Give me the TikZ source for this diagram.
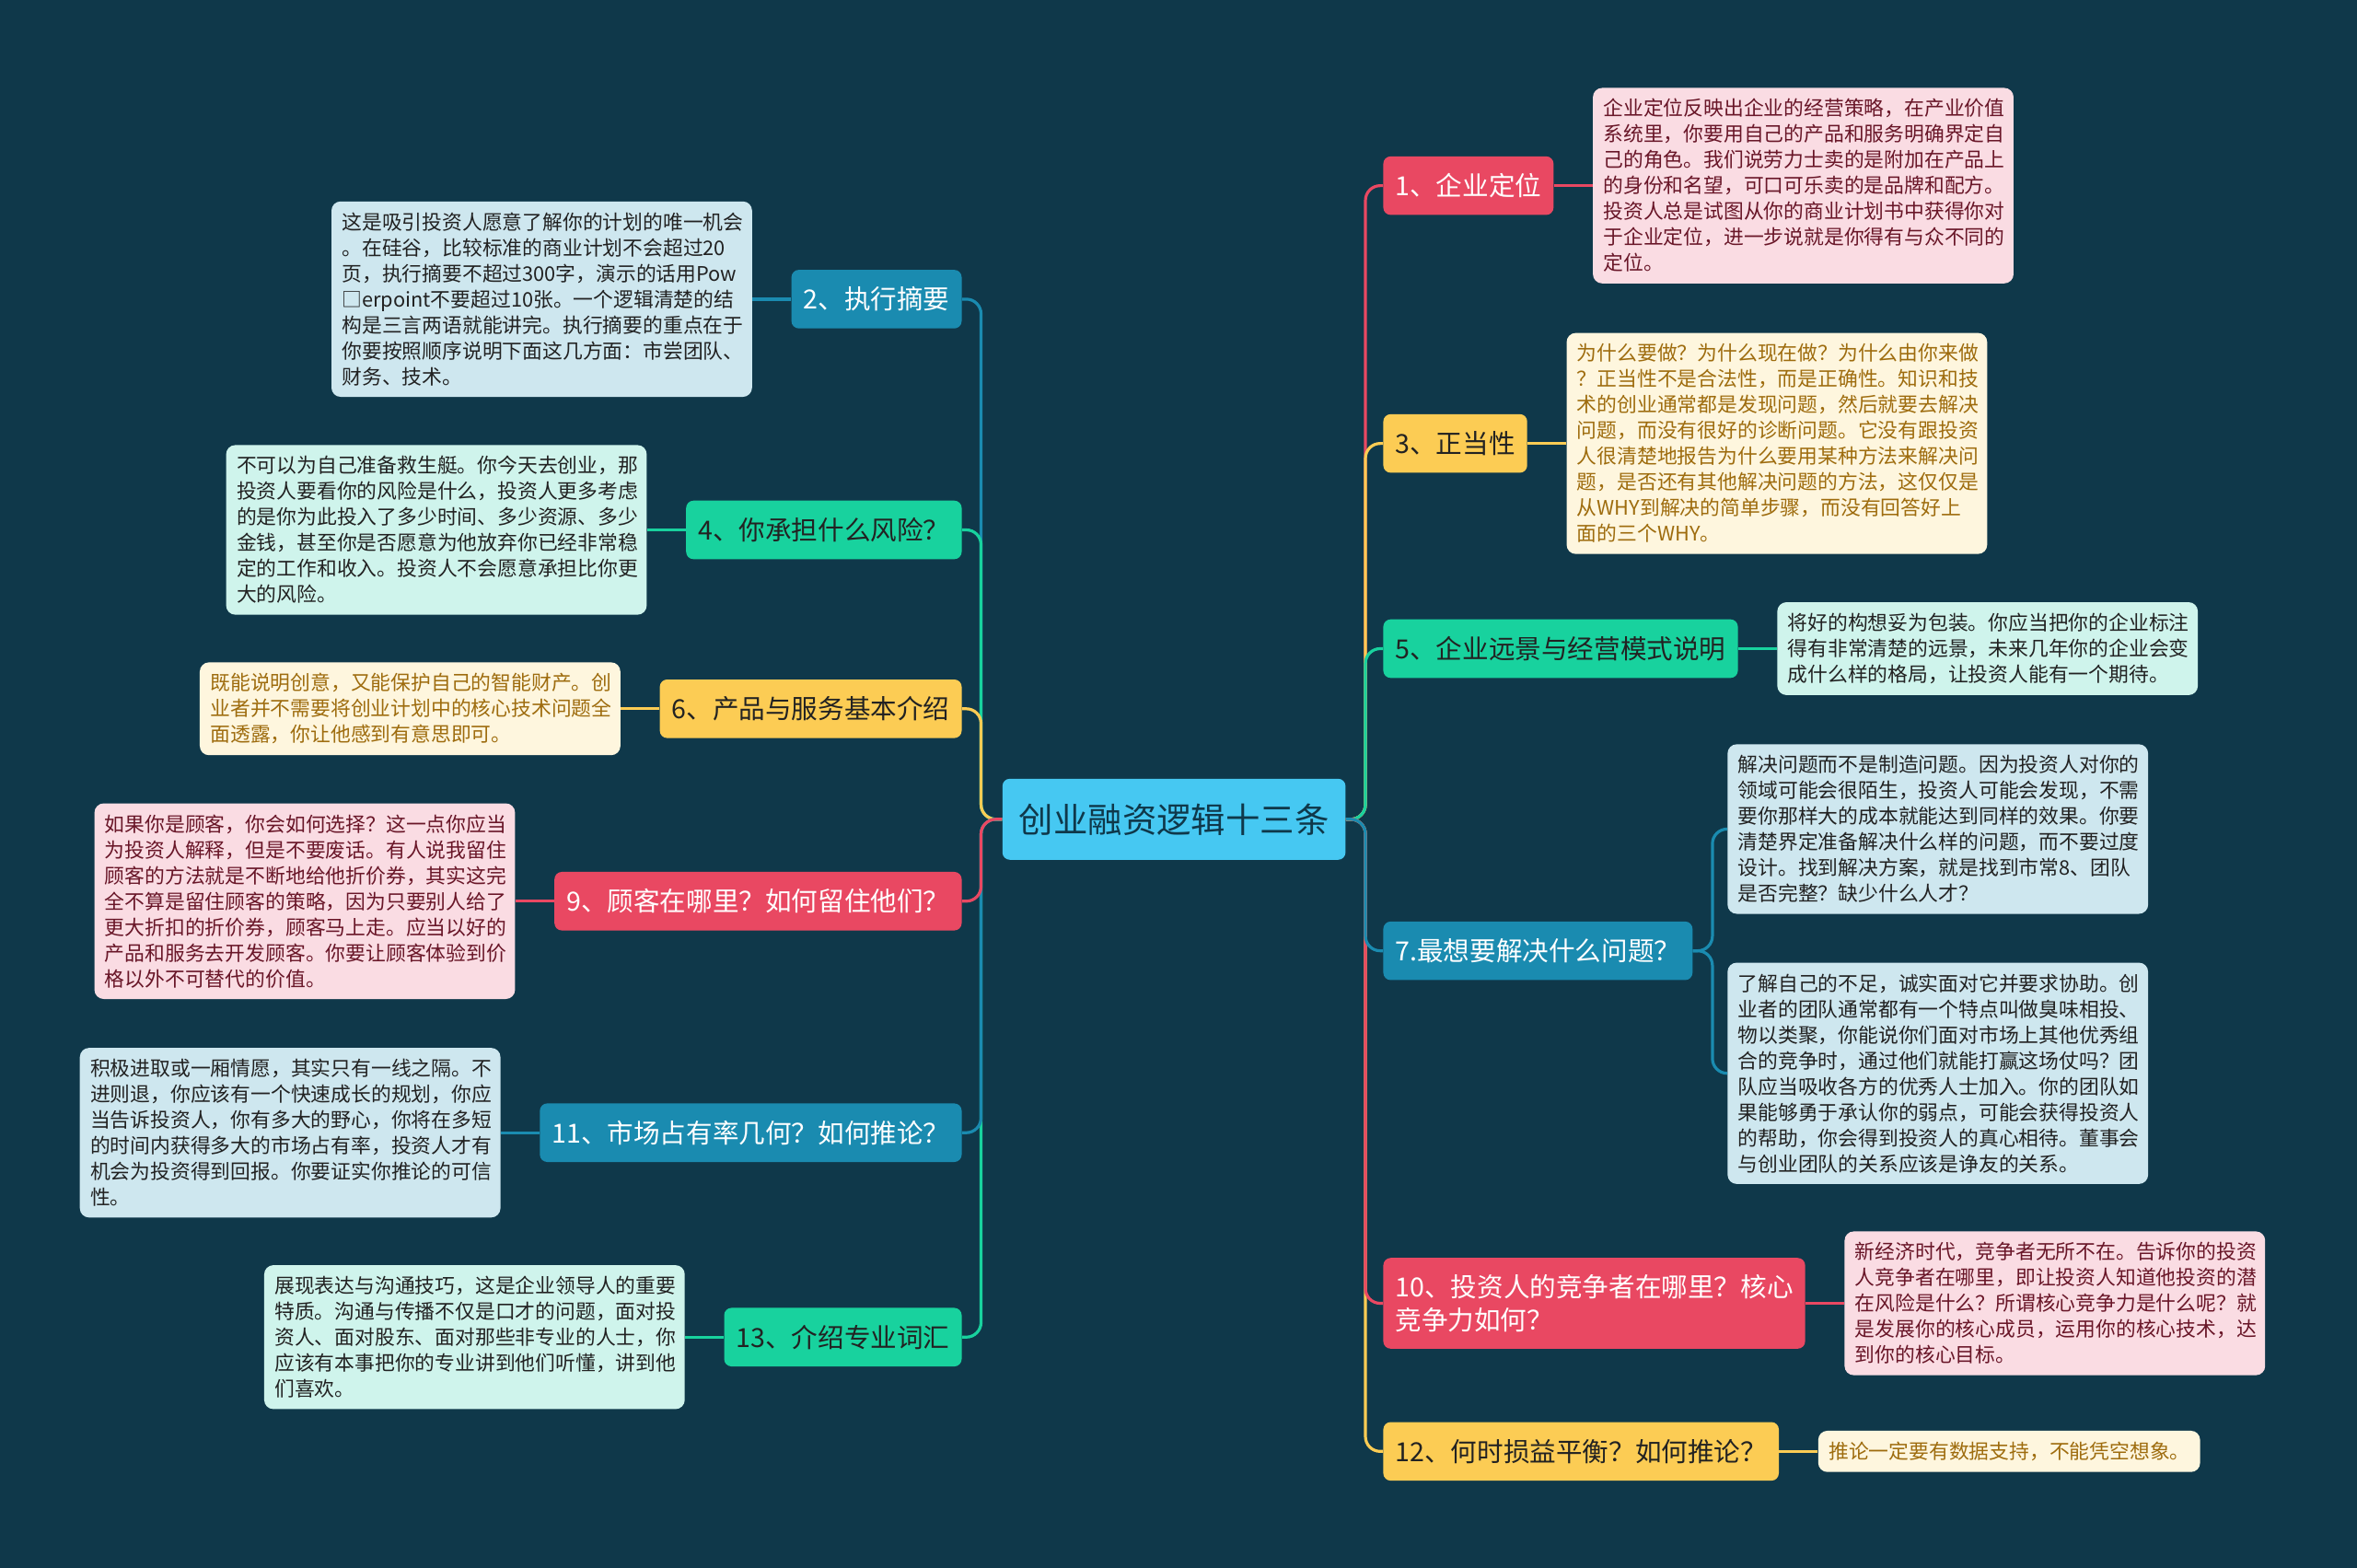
\documentclass[tikz,border=0pt]{standalone}
\usepackage{fontspec}
\setmainfont{Noto Sans CJK SC}
\usetikzlibrary{positioning}
\definecolor{bgNavy}{RGB}{15,56,74}
\definecolor{hubBlue}{RGB}{70,200,242}
\definecolor{topRed}{RGB}{233,72,98}
\definecolor{topYellow}{RGB}{252,204,84}
\definecolor{topGreen}{RGB}{24,210,158}
\definecolor{topBlue}{RGB}{26,139,176}
\definecolor{noteRed}{RGB}{250,220,227}
\definecolor{noteYellow}{RGB}{254,246,222}
\definecolor{noteGreen}{RGB}{207,244,236}
\definecolor{noteBlue}{RGB}{206,231,239}
\definecolor{inkRed}{RGB}{105,22,40}
\definecolor{inkYellow}{RGB}{158,108,14}
\definecolor{inkDark}{RGB}{34,34,34}

\begin{document}
\begin{tikzpicture}[x=0.8163pt, y=-0.8163pt,
    hub/.style={rounded corners=4pt, fill=hubBlue, text=bgNavy, font=\fontsize{18.7}{22}\selectfont, minimum height=44pt, inner xsep=9pt},
    topic/.style={rounded corners=4pt, font=\fontsize{14.3}{18}\selectfont, minimum height=31.8pt, inner xsep=6.5pt, inner ysep=4pt},
    topicR/.style={topic, fill=topRed, text=white},
    topicY/.style={topic, fill=topYellow, text=inkDark},
    topicG/.style={topic, fill=topGreen, text=inkDark},
    topicB/.style={topic, fill=topBlue, text=white},
    note/.style={rounded corners=5pt, align=left, text width=217pt, inner xsep=5.7pt, inner ysep=6pt, font=\fontsize{10.9}{14}\selectfont},
    noteR/.style={note, fill=noteRed, text=inkRed},
    noteY/.style={note, fill=noteYellow, text=inkYellow},
    noteG/.style={note, fill=noteGreen, text=inkDark},
    noteB/.style={note, fill=noteBlue, text=inkDark},
    link/.style={line width=1.6pt, rounded corners=8pt}]
    \fill[bgNavy] (0,0) rectangle (1568,1043);
    \useasboundingbox (0,0) rectangle (1568,1043);

    \node[hub] (hub) at (781,545) {创业融资逻辑十三条};

    % right side
    \node[topicR, anchor=west] (n1) at (920,123.5) {1、企业定位};
    \node[topicY, anchor=west] (n3) at (920,295) {3、正当性};
    \node[topicG, anchor=west] (n5) at (920,431.5) {5、企业远景与经营模式说明};
    \node[topicB, anchor=west] (n7) at (920,632.5) {7.最想要解决什么问题？};
    \node[topicR, anchor=west, align=left, inner ysep=9pt] (n10) at (920,867) {10、投资人的竞争者在哪里？核心\\竞争力如何？};
    \node[topicY, anchor=west] (n12) at (920,965.5) {12、何时损益平衡？如何推论？};

    % left side
    \node[topicB, anchor=east] (n2) at (640,199) {2、执行摘要};
    \node[topicG, anchor=east] (n4) at (640,352.5) {4、你承担什么风险？};
    \node[topicY, anchor=east] (n6) at (640,471.5) {6、产品与服务基本介绍};
    \node[topicR, anchor=east] (n9) at (640,599.5) {9、顾客在哪里？如何留住他们？};
    \node[topicB, anchor=east] (n11) at (640,753.5) {11、市场占有率几何？如何推论？};
    \node[topicG, anchor=east] (n13) at (640,889.5) {13、介绍专业词汇};

    % notes
    \node[noteR, right=21pt of n1] (d1) {企业定位反映出企业的经营策略，在产业价值\\系统里，你要用自己的产品和服务明确界定自\\己的角色。我们说劳力士卖的是附加在产品上\\的身份和名望，可口可乐卖的是品牌和配方。\\投资人总是试图从你的商业计划书中获得你对\\于企业定位，进一步说就是你得有与众不同的\\定位。};
    \node[noteY, right=21pt of n3] (d3) {为什么要做？为什么现在做？为什么由你来做\\？正当性不是合法性，而是正确性。知识和技\\术的创业通常都是发现问题，然后就要去解决\\问题，而没有很好的诊断问题。它没有跟投资\\人很清楚地报告为什么要用某种方法来解决问\\题，是否还有其他解决问题的方法，这仅仅是\\从WHY到解决的简单步骤，而没有回答好上\\面的三个WHY。};
    \node[noteG, right=21pt of n5] (d5) {将好的构想妥为包装。你应当把你的企业标注\\得有非常清楚的远景，未来几年你的企业会变\\成什么样的格局，让投资人能有一个期待。};
    \node[noteB, anchor=west] (d7a) at (1149,551.5) {解决问题而不是制造问题。因为投资人对你的\\领域可能会很陌生，投资人可能会发现，不需\\要你那样大的成本就能达到同样的效果。你要\\清楚界定准备解决什么样的问题，而不要过度\\设计。找到解决方案，就是找到市常8、团队\\是否完整？缺少什么人才？};
    \node[noteB, anchor=west] (d7b) at (1149,714) {了解自己的不足，诚实面对它并要求协助。创\\业者的团队通常都有一个特点叫做臭味相投、\\物以类聚，你能说你们面对市场上其他优秀组\\合的竞争时，通过他们就能打赢这场仗吗？团\\队应当吸收各方的优秀人士加入。你的团队如\\果能够勇于承认你的弱点，可能会获得投资人\\的帮助，你会得到投资人的真心相待。董事会\\与创业团队的关系应该是诤友的关系。};
    \node[noteR, right=21pt of n10] (d10) {新经济时代，竞争者无所不在。告诉你的投资\\人竞争者在哪里，即让投资人知道他投资的潜\\在风险是什么？所谓核心竞争力是什么呢？就\\是发展你的核心成员，运用你的核心技术，达\\到你的核心目标。};
    \node[noteY, right=21pt of n12, text width=196pt] (d12) {推论一定要有数据支持，不能凭空想象。};

    \node[noteB, left=21pt of n2] (d2) {这是吸引投资人愿意了解你的计划的唯一机会\\。在硅谷，比较标准的商业计划不会超过20\\页，执行摘要不超过300字，演示的话用Pow\\□erpoint不要超过10张。一个逻辑清楚的结\\构是三言两语就能讲完。执行摘要的重点在于\\你要按照顺序说明下面这几方面：市尝团队、\\财务、技术。};
    \node[noteG, left=21pt of n4] (d4) {不可以为自己准备救生艇。你今天去创业，那\\投资人要看你的风险是什么，投资人更多考虑\\的是你为此投入了多少时间、多少资源、多少\\金钱，甚至你是否愿意为他放弃你已经非常稳\\定的工作和收入。投资人不会愿意承担比你更\\大的风险。};
    \node[noteY, left=21pt of n6] (d6) {既能说明创意，又能保护自己的智能财产。创\\业者并不需要将创业计划中的核心技术问题全\\面透露，你让他感到有意思即可。};
    \node[noteR, left=21pt of n9] (d9) {如果你是顾客，你会如何选择？这一点你应当\\为投资人解释，但是不要废话。有人说我留住\\顾客的方法就是不断地给他折价券，其实这完\\全不算是留住顾客的策略，因为只要别人给了\\更大折扣的折价券，顾客马上走。应当以好的\\产品和服务去开发顾客。你要让顾客体验到价\\格以外不可替代的价值。};
    \node[noteB, left=21pt of n11] (d11) {积极进取或一厢情愿，其实只有一线之隔。不\\进则退，你应该有一个快速成长的规划，你应\\当告诉投资人，你有多大的野心，你将在多短\\的时间内获得多大的市场占有率，投资人才有\\机会为投资得到回报。你要证实你推论的可信\\性。};
    \node[noteG, left=21pt of n13] (d13) {展现表达与沟通技巧，这是企业领导人的重要\\特质。沟通与传播不仅是口才的问题，面对投\\资人、面对股东、面对那些非专业的人士，你\\应该有本事把你的专业讲到他们听懂，讲到他\\们喜欢。};

    % hub to topics, outermost first
    \draw[link, topRed] (hub.east) -- ++(13,0) |- (n1.west);
    \draw[link, topYellow] (hub.east) -- ++(13,0) |- (n3.west);
    \draw[link, topGreen] (hub.east) -- ++(13,0) |- (n5.west);
    \draw[link, topYellow] (hub.east) -- ++(13,0) |- (n12.west);
    \draw[link, topRed] (hub.east) -- ++(13,0) |- (n10.west);
    \draw[link, topBlue] (hub.east) -- ++(13,0) |- (n7.west);
    \draw[link, topBlue] (hub.west) -- ++(-14,0) |- (n2.east);
    \draw[link, topGreen] (hub.west) -- ++(-14,0) |- (n4.east);
    \draw[link, topYellow] (hub.west) -- ++(-14,0) |- (n6.east);
    \draw[link, topGreen] (hub.west) -- ++(-14,0) |- (n13.east);
    \draw[link, topBlue] (hub.west) -- ++(-14,0) |- (n11.east);
    \draw[link, topRed] (hub.west) -- ++(-14,0) |- (n9.east);

    % topics to notes
    \draw[link, topRed] (n1.east) -- (d1.west);
    \draw[link, topYellow] (n3.east) -- (d3.west);
    \draw[link, topGreen] (n5.east) -- (d5.west);
    \draw[link, topBlue] (n7.east) -- ++(13,0) |- (d7a.west);
    \draw[link, topBlue] (n7.east) -- ++(13,0) |- (d7b.west);
    \draw[link, topRed] (n10.east) -- (d10.west);
    \draw[link, topYellow] (n12.east) -- (d12.west);
    \draw[link, topBlue] (n2.west) -- (d2.east);
    \draw[link, topGreen] (n4.west) -- (d4.east);
    \draw[link, topYellow] (n6.west) -- (d6.east);
    \draw[link, topRed] (n9.west) -- (d9.east);
    \draw[link, topBlue] (n11.west) -- (d11.east);
    \draw[link, topGreen] (n13.west) -- (d13.east);
\end{tikzpicture}
\end{document}
